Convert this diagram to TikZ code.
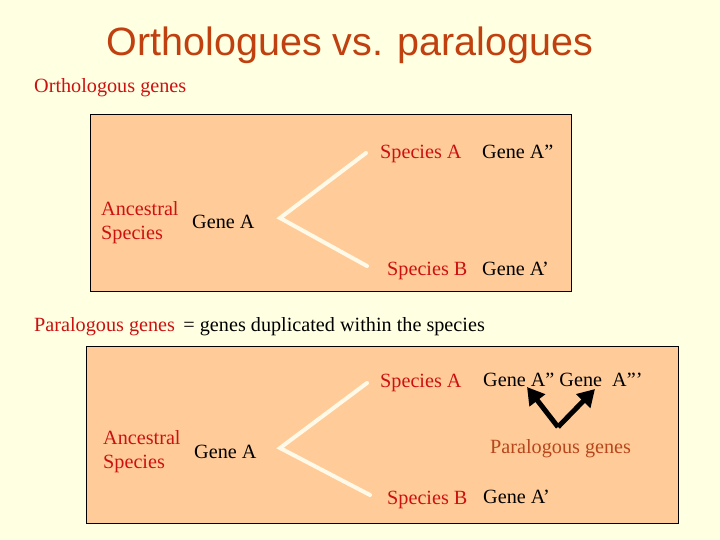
\documentclass[tikz,border=0pt]{standalone}
\usepackage{fontspec}
\setmainfont{Liberation Serif}
\newfontfamily\titlefont{Liberation Sans}
\usetikzlibrary{arrows.meta}
\definecolor{slidebg}{HTML}{FFFFE1}
\definecolor{boxfill}{HTML}{FFCC99}
\definecolor{spred}{HTML}{CC1111}
\definecolor{titlebrown}{HTML}{C04010}
\definecolor{parabrown}{HTML}{B8461C}
\definecolor{branchcol}{HTML}{FFF9E8}

\begin{document}
\begin{tikzpicture}[x=1pt,y=-1pt]
    \tikzstyle{txt}=[inner sep=0pt,anchor=west,font=\fontsize{20.2}{24}\selectfont]
    \tikzstyle{red txt}=[txt,text=spred];
    \tikzstyle{gene}=[txt,text=black];
    \tikzstyle{panel}=[draw=black,fill=boxfill,line width=0.8pt];
    \tikzstyle{branch}=[draw=branchcol,line width=4pt,line cap=round,line join=miter];
    \tikzstyle{dup arrow}=[draw=black,line width=5pt,-{Triangle[length=17pt,width=19pt]}];
    % background of the slide
    \fill[slidebg] (0,0) rectangle (720,540);
    \useasboundingbox (0,0) rectangle (720,540);
    \node[inner sep=0pt,text=titlebrown,font=\titlefont\fontsize{39.5}{44}\selectfont] (title) at (350,45) {Orthologues vs. paralogues};
    % Orthologous panel
    \node[red txt] (ortho) at (34,88) {Orthologous genes};
    \path[panel] (90,114) rectangle (571,291);
    \node[red txt,align=left] (anc1) at (101,223) {Ancestral\\Species};
    \node[gene] (geneA1) at (192,222) {Gene A};
    \node[red txt] (spA1) at (380,154) {Species A};
    \node[gene] (geneAa1) at (482,152) {Gene A''};
    \node[red txt] (spB1) at (387,271) {Species B};
    \node[gene] (geneAb1) at (482,269) {Gene A'};
    \coordinate (fork1) at (280,218);
    \coordinate (tipA1) at (366,153);
    \coordinate (tipB1) at (367,266);
    \path[branch] (tipA1) -- (fork1) -- (tipB1);
    % Paralogous panel
    \node[txt] (para) at (34,327) {\textcolor{spred}{Paralogous genes} \,= genes duplicated within the species};
    \path[panel] (86,346) rectangle (678,523);
    \node[red txt,align=left] (anc2) at (103,452) {Ancestral\\Species};
    \node[gene] (geneA2) at (194,452) {Gene A};
    \node[red txt] (spA2) at (380,383) {Species A};
    \node[gene] (geneAa2) at (483,380) {Gene A'' Gene\ \ A'''};
    \node[red txt] (spB2) at (387,500) {Species B};
    \node[gene] (geneAb2) at (483,497) {Gene A'};
    \node[txt,text=parabrown] (paralabel) at (490,449) {Paralogous genes};
    \coordinate (fork2) at (280,448);
    \coordinate (tipA2) at (367,383);
    \coordinate (tipB2) at (370,495);
    \path[branch] (tipA2) -- (fork2) -- (tipB2);
    % arrows to the two copies
    \coordinate (dup) at (558,427);
    \coordinate (copy1) at (527,387);
    \coordinate (copy2) at (595,389);
    \draw[dup arrow] (dup) -- (copy1);
    \draw[dup arrow] (dup) -- (copy2);
\end{tikzpicture}
\end{document}
